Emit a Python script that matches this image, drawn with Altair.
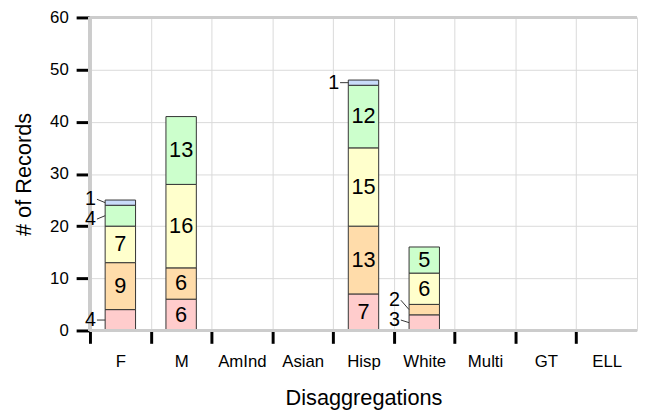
import altair as alt
import pandas as pd

categories = ["F", "M", "AmInd", "Asian", "Hisp", "White", "Multi", "GT", "ELL"]
series = ["Level 1", "Level 2", "Level 3", "Level 4", "Level 5"]
colors = ["#ffcccc", "#ffdcaa", "#ffffcc", "#ccffcc", "#c9dcfa"]
level1 = [4, 6, 0, 0, 7, 3, 0, 0, 0]
level2 = [9, 6, 0, 0, 13, 2, 0, 0, 0]
level3 = [7, 16, 0, 0, 15, 6, 0, 0, 0]
level4 = [4, 13, 0, 0, 12, 5, 0, 0, 0]
level5 = [1, 0, 0, 0, 1, 0, 0, 0, 0]
y_ticks = [0, 10, 20, 30, 40, 50, 60]

values_by_series = [level1, level2, level3, level4, level5]

# build stacked table
rows = []
for ci, cat in enumerate(categories):
    base = 0
    for si, s in enumerate(series):
        v = values_by_series[si][ci]
        if v <= 0:
            continue
        rows.append(dict(cat=cat, idx=ci, series=s, sidx=si, value=v,
                         y0=base, y1=base + v, mid=base + v / 2))
        base += v
df = pd.DataFrame(rows)
df["inside"] = df["value"] >= 5
df["label_y"] = df["mid"]

GAP = 3.8   # min spacing between outside labels (value units)
LOW = 2.0   # lowest label centre (value units)


def spread(mids):
    pos = list(mids)
    for _ in range(100):
        for i in range(len(pos) - 1):
            d = pos[i + 1] - pos[i]
            if d < GAP:
                s = (GAP - d) / 2
                pos[i] -= s
                pos[i + 1] += s
        if pos[0] < LOW:
            pos[0] = LOW
        for i in range(1, len(pos)):
            if pos[i] < pos[i - 1] + GAP:
                pos[i] = pos[i - 1] + GAP
    return pos


for cat, g in df[~df["inside"]].groupby("cat"):
    g = g.sort_values("mid")
    df.loc[g.index, "label_y"] = spread(list(g["mid"]))

FONT = "Liberation Sans"
N = len(categories)
W, H = 554, 317

xscale = alt.Scale(domain=[0, N], nice=False, zero=False)
yscale = alt.Scale(domain=[0, y_ticks[-1]], nice=False, zero=False)

label_expr = "[" + ",".join(f"'{c}'" for c in categories) + "][datum.value]"

x_axis = alt.Axis(
    values=list(range(N)), labelExpr=label_expr, labelOffset=W / N / 2,
    labelFlush=False, labelOverlap=False, labelBound=False,
    grid=True, gridColor="#d9d9d9", gridWidth=1, domain=False,
    tickColor="black", tickWidth=3, tickSize=13,
    labelFont=FONT, labelFontSize=17, labelColor="black", labelPadding=10,
    title="Disaggregations", titleFont=FONT, titleFontSize=22,
    titleFontWeight="normal", titleColor="black", titlePadding=19,
)
y_axis = alt.Axis(
    values=y_ticks, grid=True, gridColor="#d9d9d9", gridWidth=1, domain=False,
    tickColor="black", tickWidth=3, tickSize=14,
    labelFont=FONT, labelFontSize=17, labelColor="black", labelPadding=8,
    labelFlush=False,
    title="# of Records", titleFont=FONT, titleFontSize=22,
    titleFontWeight="normal", titleColor="black", titlePadding=14,
)


def X(field, **kw):
    return alt.X(field, scale=xscale, axis=x_axis, **kw)


def Y(field, **kw):
    return alt.Y(field, scale=yscale, axis=y_axis, **kw)


base = alt.Chart(df)

bars = base.transform_calculate(
    bx0="datum.idx + 0.25", bx1="datum.idx + 0.75"
).mark_bar(stroke="#333333", strokeWidth=1).encode(
    x=X("bx0:Q"),
    x2="bx1:Q",
    y=Y("y0:Q"),
    y2="y1:Q",
    color=alt.Color("series:N", scale=alt.Scale(domain=series, range=colors), legend=None),
)

border_color = "#cccccc"
top_border = alt.Chart(df).mark_rule(color=border_color, strokeWidth=3).encode(
    y=alt.Y(datum=y_ticks[-1], scale=yscale, axis=y_axis))
bottom_border = alt.Chart(df).mark_rule(color=border_color, strokeWidth=3).encode(
    y=alt.Y(datum=0, scale=yscale, axis=y_axis))
left_border = alt.Chart(df).mark_rule(color=border_color, strokeWidth=3).encode(
    x=alt.X(datum=0, scale=xscale, axis=x_axis))

leaders = base.transform_filter("!datum.inside").transform_calculate(
    rx0="datum.idx + 0.115", rx1="datum.idx + 0.25"
).mark_rule(color="#333333", strokeWidth=1).encode(
    x=X("rx0:Q"),
    x2="rx1:Q",
    y=Y("label_y:Q"),
    y2="mid:Q",
)

inside_text = base.transform_filter("datum.inside").transform_calculate(
    tx="datum.idx + 0.5"
).mark_text(font=FONT, fontSize=22, color="black", baseline="middle", align="center").encode(
    x=X("tx:Q"),
    y=Y("mid:Q"),
    text="value:Q",
)

outside_text = base.transform_filter("!datum.inside").transform_calculate(
    lx="datum.idx + 0.1"
).mark_text(font=FONT, fontSize=20, color="black", baseline="middle", align="right").encode(
    x=X("lx:Q"),
    y=Y("label_y:Q"),
    text="value:Q",
)

chart = alt.layer(
    bars, top_border, bottom_border, left_border, leaders, inside_text, outside_text
).properties(
    width=W, height=H,
    autosize=alt.AutoSizeParams(type="none"),
    padding={"left": 83, "top": 7, "right": 1, "bottom": 80},
).configure_view(stroke="#d9d9d9", strokeWidth=1)

chart.save("out.html", embed_options={"renderer": "svg", "actions": False})
